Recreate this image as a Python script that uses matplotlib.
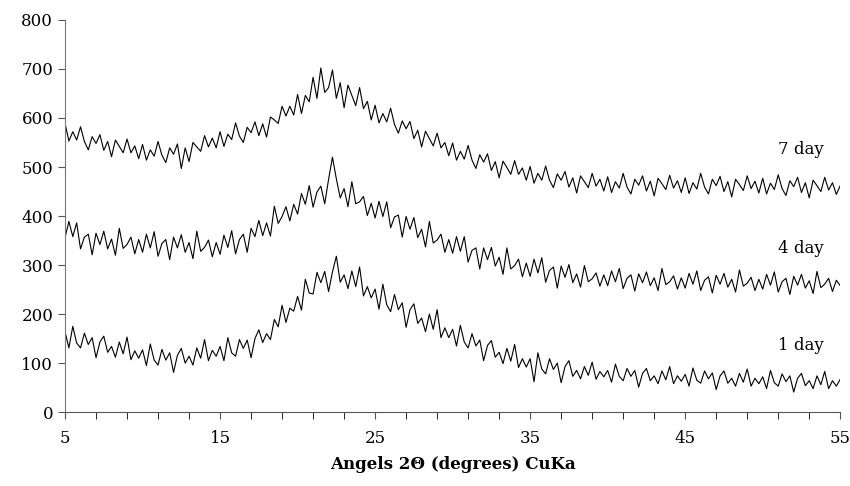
import numpy as np
from matplotlib import pyplot as plt

plt.rcParams['font.family'] = ['DejaVu Serif']

# 2theta from 5 to 55 in 0.25 degree steps
angles = np.arange(201) * 0.25 + 5

# intensities, one row = one degree (4 readings)
day7 = [589, 553, 572, 555,
        582, 552, 535, 562,
        548, 566, 534, 552,
        521, 555, 542, 529,
        557, 529, 543, 517,
        546, 514, 535, 522,
        552, 524, 509, 539,
        526, 547, 497, 539,
        511, 550, 541, 532,
        564, 541, 559, 539,
        572, 542, 567, 556,
        590, 563, 550, 581,
        570, 592, 564, 588,
        561, 602, 596, 589,
        624, 604, 624, 606,
        648, 609, 646, 633,
        683, 640, 702, 652,
        662, 698, 640, 672,
        621, 667, 646, 625,
        662, 619, 634, 596,
        626, 590, 609, 592,
        620, 587, 569, 594,
        578, 593, 558, 575,
        541, 573, 558, 543,
        569, 539, 550, 523,
        549, 514, 532, 516,
        544, 514, 497, 525,
        510, 527, 493, 511,
        478, 512, 499, 485,
        513, 485, 498, 473,
        501, 467, 487, 473,
        502, 473, 458, 486,
        473, 491, 459, 478,
        447, 482, 470, 458,
        487, 461, 475, 451,
        480, 448, 470, 457,
        487, 459, 445, 475,
        463, 482, 451, 471,
        441, 477, 466, 454,
        483, 457, 472, 448,
        478, 446, 468, 455,
        487, 459, 445, 475,
        462, 481, 450, 470,
        439, 475, 464, 452,
        482, 456, 471, 447,
        477, 445, 467, 454,
        484, 456, 442, 472,
        460, 479, 448, 468,
        437, 473, 462, 450,
        479, 453, 468, 444,
        462]

day4 = [356, 389, 358, 386,
        333, 357, 363, 321,
        365, 342, 369, 333,
        353, 320, 375, 334,
        342, 357, 323, 352,
        326, 363, 335, 368,
        318, 344, 352, 311,
        357, 335, 362, 326,
        346, 313, 369, 328,
        336, 351, 317, 346,
        322, 361, 336, 370,
        323, 352, 363, 326,
        375, 358, 391, 360,
        386, 359, 420, 385,
        399, 419, 390, 424,
        404, 446, 424, 462,
        418, 449, 461, 425,
        475, 520, 476, 437,
        456, 419, 470, 425,
        429, 440, 401, 426,
        396, 430, 399, 429,
        376, 398, 402, 357,
        399, 373, 397, 356,
        373, 337, 389, 345,
        351, 363, 326, 352,
        324, 358, 328, 358,
        306, 330, 335, 292,
        335, 311, 336, 298,
        316, 281, 335, 292,
        299, 312, 276, 304,
        277, 312, 284, 315,
        265, 289, 296, 253,
        298, 275, 301, 264,
        282, 255, 299, 266,
        272, 284, 257, 280,
        258, 288, 266, 293,
        252, 273, 280, 247,
        282, 264, 286, 258,
        274, 248, 293, 260,
        266, 278, 251, 274,
        253, 283, 261, 288,
        248, 269, 276, 243,
        279, 261, 283, 255,
        271, 245, 290, 257,
        263, 275, 248, 271,
        251, 281, 259, 286,
        245, 266, 273, 240,
        277, 259, 281, 253,
        268, 242, 287, 254,
        261, 273, 246, 269,
        258]

day1 = [164, 131, 175, 141,
        131, 161, 138, 152,
        111, 143, 155, 122,
        134, 112, 143, 119,
        153, 107, 125, 110,
        127, 95, 139, 106,
        96, 128, 106, 121,
        81, 116, 130, 100,
        114, 96, 131, 110,
        148, 105, 126, 114,
        134, 105, 152, 121,
        114, 148, 130, 147,
        111, 150, 168, 142,
        160, 148, 189, 174,
        218, 183, 212, 206,
        236, 208, 271, 243,
        241, 285, 264, 287,
        246, 286, 318, 265,
        280, 252, 288, 256,
        296, 237, 256, 233,
        251, 210, 261, 219,
        205, 240, 209, 223,
        173, 209, 221, 181,
        192, 164, 200, 169,
        209, 152, 172, 152,
        169, 135, 177, 143,
        131, 160, 135, 147,
        105, 136, 146, 112,
        122, 99, 130, 104,
        138, 91, 109, 92,
        109, 62, 121, 88,
        78, 109, 87, 100,
        60, 93, 105, 73,
        85, 68, 93, 75,
        102, 67, 83, 72,
        85, 61, 98, 73,
        64, 89, 73, 85,
        51, 79, 89, 64,
        74, 58, 84, 66,
        93, 58, 74, 63,
        77, 53, 90, 65,
        59, 84, 68, 80,
        46, 74, 84, 59,
        69, 53, 79, 61,
        88, 53, 69, 58,
        72, 48, 85, 60,
        53, 78, 62, 74,
        41, 69, 79, 54,
        64, 48, 74, 56,
        83, 48, 64, 53,
        67]

labels = ['7 day', '4 day', '1 day']
label_pos = [(51, 535), (51, 333), (51, 135)]

fig = plt.figure(figsize=(8.5, 4.86), dpi=100)
ax = fig.add_axes([0.0765, 0.152, 0.912, 0.807])

for series in [day7, day4, day1]:
    ax.plot(angles, series, color='black', linewidth=0.8)

for text, (x, y) in zip(labels, label_pos):
    ax.text(x, y, text, fontsize=12, ha='left', va='center')

ax.set_xlim(5, 55)
ax.set_ylim(0, 800)
ax.set_xticks(np.arange(5, 56, 10))
ax.set_xticks(np.arange(5, 56, 2), minor=True)
ax.set_yticks(np.arange(0, 801, 100))
ax.tick_params(axis='both', labelsize=12, color='#555555', direction='out')
ax.tick_params(axis='x', which='both', length=5, pad=8)
ax.tick_params(axis='y', length=5)
for side in ['top', 'right']:
    ax.spines[side].set_visible(False)
ax.spines['left'].set_color('#777777')
ax.spines['bottom'].set_color('#555555')

ax.set_xlabel('Angels 2Θ (degrees) CuKa', fontsize=12, fontweight='bold', labelpad=6)

fig.savefig('out.png', dpi=100)
